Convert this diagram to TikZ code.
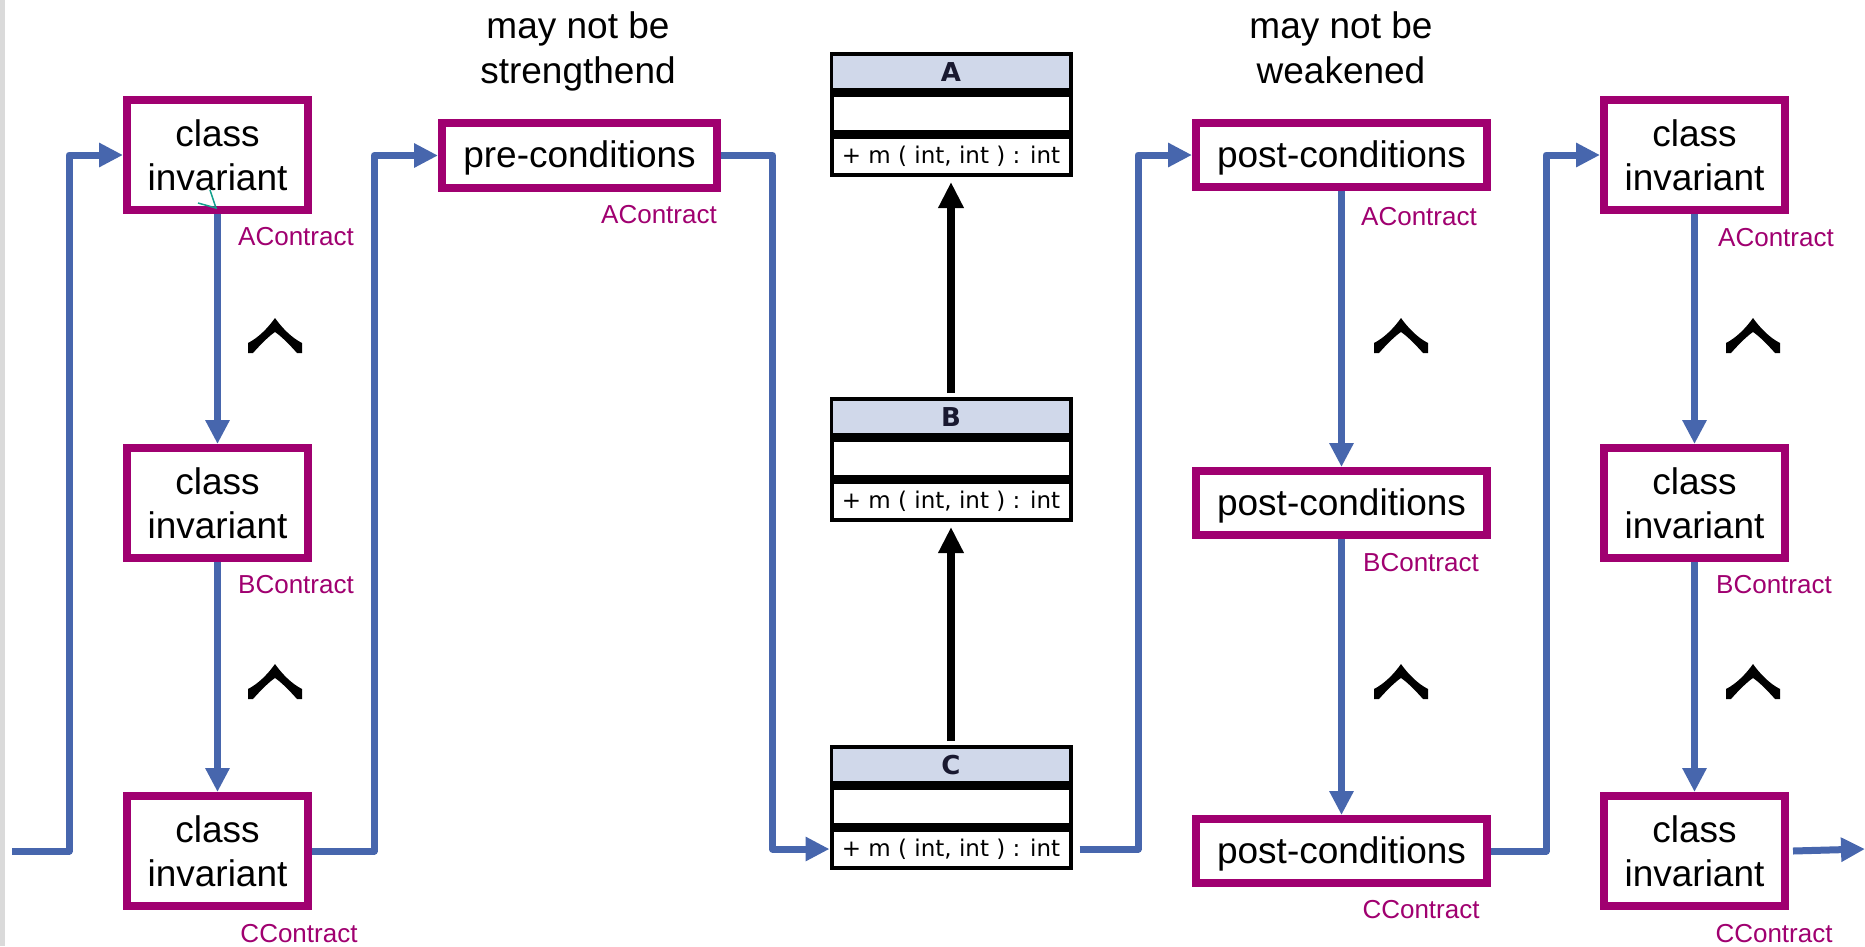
\documentclass[tikz,border=0pt]{standalone}
\usepackage{fontspec}
\setmainfont{Liberation Sans}
\newfontfamily\umlfont{DejaVu Sans}
\usetikzlibrary{arrows.meta,calc}

\definecolor{contract}{RGB}{160,0,112}
\definecolor{flowblue}{RGB}{71,102,173}
\definecolor{headfill}{RGB}{208,216,234}
\definecolor{navy}{RGB}{25,25,48}
\definecolor{stripgray}{RGB}{218,218,218}
\definecolor{marker}{RGB}{20,160,140}

\begin{document}
\begin{tikzpicture}[x=1pt,y=-1pt,
  condbox/.style={draw=contract, line width=8pt, fill=white, inner sep=0pt,
    align=center, font=\fontsize{37}{44}\selectfont},
  invbox/.style={condbox, minimum width=181pt, minimum height=110pt},
  postbox/.style={condbox, minimum width=291pt, minimum height=64pt,
    text height=30pt, text depth=6pt},
  prebox/.style={condbox, minimum width=275pt, minimum height=65pt,
    text height=30pt, text depth=6pt},
  contractlabel/.style={inner sep=0pt, text=contract, font=\fontsize{26}{30}\selectfont},
  headline/.style={inner sep=0pt, align=center, font=\fontsize{37}{45}\selectfont, anchor=north},
  flow/.style={draw=flowblue, line width=7pt, line join=round,
    -{Triangle[length=24pt,width=23pt]}},
  umlouter/.style={draw=black, line width=4pt, fill=white, inner sep=0pt,
    minimum width=239pt, minimum height=121pt},
  methodrow/.style={inner sep=0pt, outer sep=0pt, minimum width=243pt, minimum height=34pt,
    font=\umlfont\fontsize{23}{26}\selectfont},
  classname/.style={inner sep=0pt, text=navy, font=\umlfont\bfseries\fontsize{26}{30}\selectfont},
  inherit/.style={draw=black, line width=8pt, -{Triangle[length=26pt,width=24pt]}},
  andsign/.pic={
    \fill[black] (0,-17) .. controls (-7,-7) and (-17,3) .. (-27,8) -- (-27,18) -- (-22,18)
      .. controls (-14,9) and (-6,1) .. (0,-3)
      .. controls (6,1) and (14,9) .. (22,18) -- (27,18) -- (27,8)
      .. controls (17,3) and (7,-7) .. (0,-17) -- cycle;
  }
]
% canvas
\useasboundingbox (0,0) rectangle (1865,946);
\fill[white] (0,0) rectangle (1865,946);
\fill[stripgray] (0,0) rectangle (5,946);

% headings
\node[headline] (strong) at (578,11) {may not be\\strengthend};
\node[headline] (weak) at (1341,11) {may not be\\weakened};

% class invariants, left column
\node[invbox] (ci1) at (217.5,155) {class\\invariant};
\node[invbox] (ci2) at (217.5,503) {class\\invariant};
\node[invbox] (ci3) at (217.5,851) {class\\invariant};

% pre-conditions
\node[prebox] (pre) at (579.5,155.5) {pre-conditions};

% post-conditions column
\node[postbox] (post1) at (1341.5,155) {post-conditions};
\node[postbox] (post2) at (1341.5,503) {post-conditions};
\node[postbox] (post3) at (1341.5,851) {post-conditions};

% class invariants, right column
\node[invbox] (ri1) at (1694.5,155) {class\\invariant};
\node[invbox] (ri2) at (1694.5,503) {class\\invariant};
\node[invbox] (ri3) at (1694.5,851) {class\\invariant};

% contract labels
\node[contractlabel] (lA) at (296,237) {AContract};
\node[contractlabel] (lB) at (296,585) {BContract};
\node[contractlabel] (lC) at (299,934) {CContract};
\node[contractlabel] (pA) at (659,215) {AContract};
\node[contractlabel] (qA) at (1419,217) {AContract};
\node[contractlabel] (qB) at (1421,563) {BContract};
\node[contractlabel] (qC) at (1421,910) {CContract};
\node[contractlabel] (rA) at (1776,238) {AContract};
\node[contractlabel] (rB) at (1774,585) {BContract};
\node[contractlabel] (rC) at (1774,934) {CContract};

% UML classes A, B, C
\foreach \n/\t in {A/52,B/397,C/745}{
  \node[umlouter] (\n) at (951,\t+62.5) {};
  \fill[headfill] (833,\t+4) rectangle (1069,\t+36);
  \fill[black] (833,\t+36) rectangle (1069,\t+45);
  \fill[black] (833,\t+78) rectangle (1069,\t+87);
  \node[classname] (\n name) at (951,\t+20.5) {\n};
  \node[methodrow] (\n m) at (951,\t+104) {+ m ( int, int ) : int};
}

% generalisation arrows
\draw[inherit] ([yshift=4pt]B.north) -- ([yshift=-5pt]A.south);
\draw[inherit] ([yshift=4pt]C.north) -- ([yshift=-5pt]B.south);

% conjunction signs
\foreach \px in {275,1401,1753}{
  \pic at (\px,335) {andsign};
  \pic at (\px,681) {andsign};
}

% flow of checks
\coordinate (start) at (12,851);
\coordinate (finish) at (1865,849);
\draw[flow] (start) -| ([xshift=-54pt]ci1.west) -- (ci1.west);
\draw[flow] (ci1.south) -- (ci2.north);
\draw[flow] (ci2.south) -- (ci3.north);
\draw[flow] (ci3.east) -| ([xshift=-64pt]pre.west) -- (pre.west);
\draw[flow] (pre.east) -| ([xshift=-57pt]Cm.west) -- (Cm.west);
\draw[flow] ([xshift=7pt]Cm.east) -| ([xshift=-54pt]post1.west) -- (post1.west);
\draw[flow] (post1.south) -- (post2.north);
\draw[flow] (post2.south) -- (post3.north);
\draw[flow] (post3.east) -| ([xshift=-54pt]ri1.west) -- (ri1.west);
\draw[flow] (ri1.south) -- (ri2.north);
\draw[flow] (ri2.south) -- (ri3.north);
\draw[flow] ([xshift=4pt]ri3.east) -- (finish);

% small connector mark on the first invariant
\draw[marker, line width=1.5pt] (210,190) -- (216,208) -- (198,203);
\end{tikzpicture}
\end{document}
